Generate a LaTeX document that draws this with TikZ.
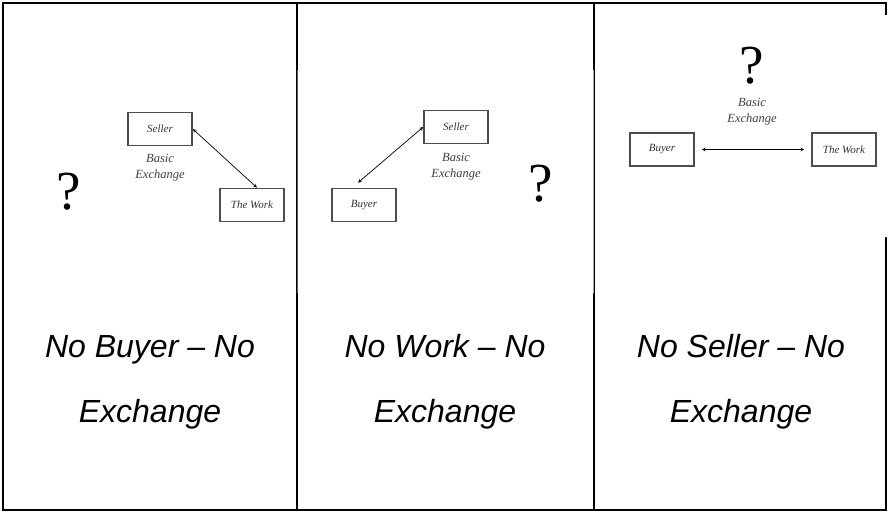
\documentclass[tikz,border=0pt]{standalone}
\usepackage{fontspec}
\newfontfamily\capfont{Liberation Sans}
\newfontfamily\boxfont{Liberation Serif}
\begin{document}
\begin{tikzpicture}[x=1pt,y=-1pt,
    party/.style={draw=black!70,line width=1.6pt,minimum width=64pt,minimum height=33pt,inner sep=0pt,text=black!80,font=\boxfont\itshape\fontsize{11}{13}\selectfont},
    exch/.style={align=center,text=black!75,font=\boxfont\itshape\fontsize{12.5}{16}\selectfont},
    missing/.style={inner sep=0pt,font=\boxfont\fontsize{55}{55}\selectfont},
    capt/.style={anchor=base,font=\capfont\itshape\fontsize{32}{32}\selectfont},
    trade/.style={<->,>=stealth,line width=0.7pt}]
    \useasboundingbox (0,0) rectangle (889,512);
    \draw[line width=2pt] (3,3) rectangle (886,510) (297,3) -- (297,510) (594,3) -- (594,510);
    \fill[white] (297.5,70) rectangle (593.5,293) (596,15) rectangle (889,237);
    \node[party] (seller1) at (160,129) {Seller};
    \node[party] (work1) at (252,205) {The Work};
    \node[exch] (basic1) at (160,168) {Basic\\Exchange};
    \node[missing] (q1) at (69,192) {?};
    \draw[trade] (seller1.east) -- ([xshift=5pt]work1.north);
    \node[party] (seller2) at (456,127) {Seller};
    \node[party] (buyer2) at (364,205) {Buyer};
    \node[exch] (basic2) at (456,167) {Basic\\Exchange};
    \node[missing] (q2) at (541,184) {?};
    \draw[trade] (seller2.west) -- ([xshift=-6pt,yshift=5pt]buyer2.north);
    \node[party] (buyer3) at (662,149.5) {Buyer};
    \node[party] (work3) at (844,149.5) {The Work};
    \node[exch] (basic3) at (752,112) {Basic\\Exchange};
    \node[missing] (q3) at (752,66) {?};
    \draw[trade,shorten <=7pt,shorten >=7pt] (buyer3) -- (work3);
    \node[capt] (cap1a) at (150,357) {No Buyer – No};
    \node[capt] (cap1b) at (150,422) {Exchange};
    \node[capt] (cap2a) at (445,357) {No Work – No};
    \node[capt] (cap2b) at (445,422) {Exchange};
    \node[capt] (cap3a) at (741,357) {No Seller – No};
    \node[capt] (cap3b) at (741,422) {Exchange};
\end{tikzpicture}
\end{document}
